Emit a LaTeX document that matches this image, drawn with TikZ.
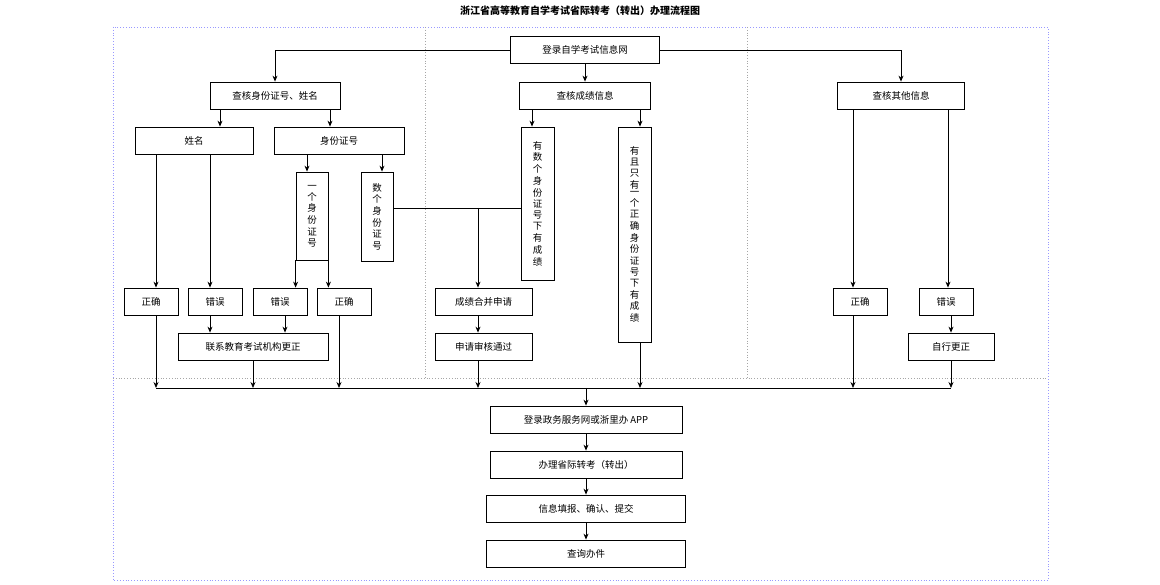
\documentclass[tikz,border=0pt]{standalone}
\usepackage{fontspec}
\setmainfont{Noto Sans CJK SC}
\usetikzlibrary{arrows.meta}
\tikzset{box/.style={draw=black, thick, inner sep=0pt, font=\fontsize{9.5}{10}\selectfont},
  arr/.style={-{Stealth[length=6pt,width=5pt]}, thick},
  ln/.style={thick},
  sep/.style={draw=gray!70, dotted, thick}}
\newcommand{\vtxt}[1]{\shortstack[c]{#1}}

\begin{document}
\begin{tikzpicture}[x=1pt,y=-1pt]
	\useasboundingbox (0,0) rectangle (1160,585);
	\node[font=\bfseries\fontsize{10}{12}\selectfont] (title) at (580,11) {浙江省高等教育自学考试省际转考（转出）办理流程图};
	\draw[draw=blue!40, dotted, thick] (113,27) rectangle (1048,580);
	\draw[sep] (425,27) -- (425,378);
	\draw[sep] (747,27) -- (747,378);
	\draw[sep] (113,378) -- (1048,378);
	
	\node[box, minimum width=149pt, minimum height=27pt] (login) at (585,50) {登录自学考试信息网};
	\node[box, minimum width=130pt, minimum height=27pt] (ckID) at (275,95.5) {查核身份证号、姓名};
	\node[box, minimum width=131pt, minimum height=27pt] (ckScore) at (585,95.5) {查核成绩信息};
	\node[box, minimum width=127pt, minimum height=27pt] (ckOther) at (901,95.5) {查核其他信息};
	\node[box, minimum width=118pt, minimum height=27pt] (name) at (194,140.5) {姓名};
	\node[box, minimum width=130pt, minimum height=27pt] (idno) at (339,140.5) {身份证号};
	\node[box, minimum width=32pt, minimum height=88pt] (oneID) at (312,216) {\vtxt{一\\个\\身\\份\\证\\号}};
	\node[box, minimum width=32pt, minimum height=89pt] (multiID) at (377,216.5) {\vtxt{数\\个\\身\\份\\证\\号}};
	\node[box, minimum width=33pt, minimum height=153pt] (multiScore) at (537.5,203.5) {\vtxt{有\\数\\个\\身\\份\\证\\号\\下\\有\\成\\绩}};
	\node[box, minimum width=33pt, minimum height=215pt] (oneScore) at (634.5,234.5) {\vtxt{有\\且\\只\\有\\一\\个\\正\\确\\身\\份\\证\\号\\下\\有\\成\\绩}};
	\node[box, minimum width=54pt, minimum height=27pt] (okA) at (151,301.5) {正确};
	\node[box, minimum width=54pt, minimum height=27pt] (errA) at (215,301.5) {错误};
	\node[box, minimum width=54pt, minimum height=27pt] (errB) at (280,301.5) {错误};
	\node[box, minimum width=54pt, minimum height=27pt] (okB) at (344,301.5) {正确};
	\node[box, minimum width=97pt, minimum height=27pt] (merge) at (483.5,301.5) {成绩合并申请};
	\node[box, minimum width=97pt, minimum height=27pt] (passed) at (483.5,346.5) {申请审核通过};
	\node[box, minimum width=150pt, minimum height=27pt] (contact) at (253,346.5) {联系教育考试机构更正};
	\node[box, minimum width=54pt, minimum height=27pt] (okC) at (860,301.5) {正确};
	\node[box, minimum width=54pt, minimum height=27pt] (errC) at (946,301.5) {错误};
	\node[box, minimum width=86pt, minimum height=27pt] (selfFix) at (951,346.5) {自行更正};
	\node[box, minimum width=192pt, minimum height=27pt] (gov) at (586,419.5) {登录政务服务网或浙里办 APP};
	\node[box, minimum width=192pt, minimum height=27pt] (apply) at (586,464.5) {办理省际转考（转出）};
	\node[box, minimum width=199pt, minimum height=27pt] (fill) at (586,508.5) {信息填报、确认、提交};
	\node[box, minimum width=199pt, minimum height=27pt] (query) at (586,553.5) {查询办件};
	
	\coordinate (busL) at (156,388);
	\coordinate (busR) at (951,388);
	\draw[ln] (busL) -- (busR);
	
	% top level
	\draw[arr] (login.west) -| (ckID.north);
	\draw[arr] (login.east) -| (ckOther.north);
	\draw[arr] (login) -- (ckScore);
	% identity branch
	\draw[arr] (ckID.south -| 220,0) -- (name.north -| 220,0);
	\draw[arr] (ckID.south -| 330,0) -- (idno.north -| 330,0);
	\draw[arr] (name.south -| okA.north -| 156,0) -- (okA.north -| 156,0);
	\draw[arr] (name.south -| 210,0) -- (errA.north -| 210,0);
	\draw[arr] (idno.south -| 307,0) -- (oneID.north -| 307,0);
	\draw[arr] (idno.south -| 382,0) -- (multiID.north -| 382,0);
	\draw[arr] (oneID.south west) -- (errB.north -| oneID.south west);
	\draw[arr] (oneID.south east) -- (okB.north -| oneID.south east);
	\draw[arr] (errA.south -| 210,0) -- (contact.north -| 210,0);
	\draw[arr] (errB.south -| 285,0) -- (contact.north -| 285,0);
	% score branch
	\draw[arr] (ckScore.south -| 532,0) -- (multiScore.north -| 532,0);
	\draw[arr] (ckScore.south -| 640,0) -- (oneScore.north -| 640,0);
	\draw[ln] (multiID.east |- 0,208) -- (multiScore.west |- 0,208);
	\draw[arr] (478,208) -- (merge.north -| 478,0);
	\draw[arr] (merge.south -| 478,0) -- (passed.north -| 478,0);
	% other branch
	\draw[arr] (ckOther.south -| 853,0) -- (okC.north -| 853,0);
	\draw[arr] (ckOther.south -| 948,0) -- (errC.north -| 948,0);
	\draw[arr] (errC.south -| 951,0) -- (selfFix.north -| 951,0);
	% into the bus
	\draw[arr] (okA.south -| 156,0) -- (busL);
	\draw[arr] (contact.south) -- (contact.south |- busL);
	\draw[arr] (okB.south -| 339,0) -- (339,388);
	\draw[arr] (passed.south -| 478,0) -- (478,388);
	\draw[arr] (oneScore.south -| 640,0) -- (640,388);
	\draw[arr] (okC.south -| 853,0) -- (853,388);
	\draw[arr] (selfFix.south) -- (busR);
	% final chain
	\draw[arr] (gov.north |- busL) -- (gov.north);
	\draw[arr] (gov) -- (apply);
	\draw[arr] (apply) -- (fill);
	\draw[arr] (fill) -- (query);
\end{tikzpicture}
\end{document}
